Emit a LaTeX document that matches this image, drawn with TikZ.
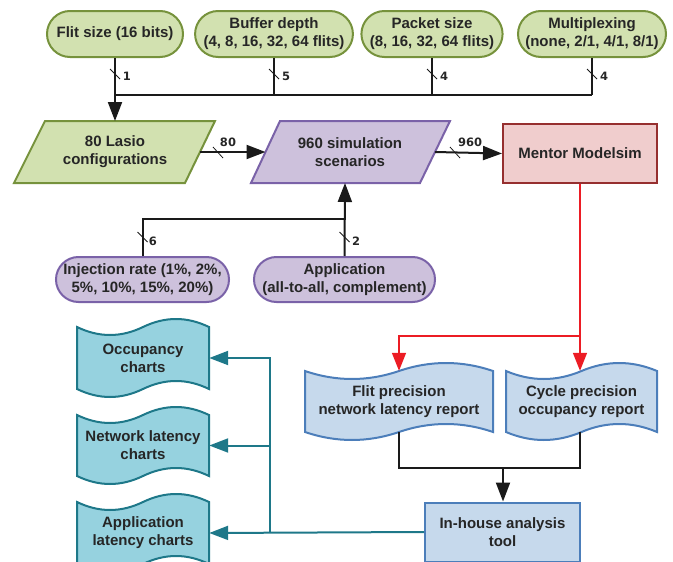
\documentclass[tikz,border=0pt]{standalone}
\usepackage{fontspec}
\setmainfont{Liberation Sans}
\newfontfamily\numfont{DejaVu Sans}
\usetikzlibrary{arrows.meta,shapes.misc}
\definecolor{grF}{HTML}{D2E1B0}
\definecolor{grD}{HTML}{76923C}
\definecolor{puF}{HTML}{CDC1DC}
\definecolor{puD}{HTML}{7A62A8}
\definecolor{piF}{HTML}{F0CDCD}
\definecolor{piD}{HTML}{962F2F}
\definecolor{blF}{HTML}{C6D9EC}
\definecolor{blD}{HTML}{4C7EBA}
\definecolor{teF}{HTML}{96D2DF}
\definecolor{teD}{HTML}{1E7889}
\definecolor{rdL}{HTML}{EC1C24}
\definecolor{txt}{HTML}{262626}
\definecolor{wireC}{HTML}{1A1A1A}
\tikzset{
  lbl/.style={font=\fontsize{15}{18}\selectfont\bfseries, text=txt, align=center},
  pill/.style={rounded rectangle, line width=2pt, minimum height=46pt, lbl, inner sep=2pt},
  greenpill/.style={pill, draw=grD, fill=grF},
  purplepill/.style={pill, draw=puD, fill=puF},
  wire/.style={line width=2pt, draw=wireC},
  arr/.style={-{Triangle[length=19pt,width=14pt]}},
  redwire/.style={line width=1.6pt, draw=rdL},
  redarr/.style={-{Triangle[length=18pt,width=14pt,fill=rdL]}},
  tealwire/.style={line width=2pt, draw=teD},
  tealarr/.style={-{Triangle[length=19pt,width=14pt,fill=teD]}},
  num/.style={font=\numfont\bfseries\fontsize{11.5}{12}\selectfont, text=txt, inner sep=0pt},
  slash/.style={line width=0.8pt, draw=wireC},
  bluebox/.style={rectangle, line width=2pt, draw=blD, fill=blF, lbl},
  pinkbox/.style={rectangle, line width=2pt, draw=piD, fill=piF, lbl},
  bluedoc/.style={line width=2pt, draw=blD, fill=blF},
  tealdoc/.style={line width=2pt, draw=teD, fill=teF},
}
% tape-shaped document: style, name, x0, x1, yt, yb, text
\newcommand{\tapedoc}[7]{%
  \pgfmathsetmacro\tpA{#3+(#4-#3)/6}%
  \pgfmathsetmacro\tpB{#3+(#4-#3)/3}%
  \pgfmathsetmacro\tpC{#3+(#4-#3)/2}%
  \pgfmathsetmacro\tpD{#3+2*(#4-#3)/3}%
  \pgfmathsetmacro\tpE{#3+5*(#4-#3)/6}%
  \pgfmathsetmacro\tpP{#5+32/3}%
  \pgfmathsetmacro\tpQ{#5-32/3}%
  \pgfmathsetmacro\bpP{#6+32/3}%
  \pgfmathsetmacro\bpQ{#6-32/3}%
  \pgfmathsetmacro\tpM{(#5+#6)/2}%
  \pgfmathsetmacro\tpW{#4-#3}%
  \pgfmathsetmacro\tpH{#6-#5}%
  \draw[#1] (#3,#5) .. controls (\tpA,\tpP) and (\tpB,\tpP) .. (\tpC,#5)
     .. controls (\tpD,\tpQ) and (\tpE,\tpQ) .. (#4,#5) -- (#4,#6)
     .. controls (\tpE,\bpQ) and (\tpD,\bpQ) .. (\tpC,#6)
     .. controls (\tpB,\bpP) and (\tpA,\bpP) .. (#3,#6) -- cycle;
  \node[lbl, minimum width=\tpW pt, minimum height=\tpH pt, inner sep=0pt] (#2) at (\tpC,\tpM) {#7};
}
\begin{document}
\begin{tikzpicture}[x=1pt,y=-1pt]
\useasboundingbox (0,0) rectangle (673,562);

% top parameter pills
\node[greenpill, minimum width=140pt] (flitsz) at (115,34) {Flit size (16 bits)};
\node[greenpill, minimum width=152pt] (buf) at (274,34) {Buffer depth\\(4, 8, 16, 32, 64 flits)};
\node[greenpill, minimum width=140pt] (pkt) at (432,34) {Packet size\\(8, 16, 32, 64 flits)};
\node[greenpill, minimum width=152pt] (mux) at (592,34) {Multiplexing\\(none, 2/1, 4/1, 8/1)};

% parallelograms
\draw[line width=2pt, draw=grD, fill=grF] (45,121) -- (215,121) -- (185,183) -- (14,183) -- cycle;
\node[lbl] (lasio) at (115,152) {80 Lasio\\configurations};
\coordinate (lasioN) at (115,121);
\coordinate (lasioE) at (200,152);
\draw[line width=2pt, draw=puD, fill=puF] (280,121) -- (450,121) -- (420,183) -- (251,183) -- cycle;
\node[lbl] (sim) at (350,152) {960 simulation\\scenarios};
\coordinate (simW) at (265.5,152);
\coordinate (simE) at (435,152);
\coordinate (simS) at (345,183);

\node[pinkbox, minimum width=154pt, minimum height=59pt] (mentor) at (580,153.5) {Mentor Modelsim};

% bottom parameter pills
\node[purplepill, minimum width=177pt, minimum height=45pt] (inj) at (142.5,279.5) {Injection rate (1\%, 2\%,\\5\%, 10\%, 15\%, 20\%)};
\node[purplepill, minimum width=185pt, minimum height=45pt] (app) at (344.5,279.5) {Application\\(all-to-all, complement)};

% reports
\tapedoc{bluedoc}{flitrep}{305}{493}{371}{432}{Flit precision\\network latency report}
\tapedoc{bluedoc}{cyclerep}{506}{657}{371}{432}{Cycle precision\\occupancy report}

\node[bluebox, minimum width=155pt, minimum height=59pt] (tool) at (502.5,532) {In-house analysis\\tool};

% charts
\tapedoc{tealdoc}{occ}{77}{209}{327}{389}{Occupancy\\charts}
\tapedoc{tealdoc}{netlat}{77}{209}{415}{476}{Network latency\\charts}
\tapedoc{tealdoc}{applat}{77}{209}{502}{564}{Application\\latency charts}

% top bus
\coordinate (busL) at (115,95);
\coordinate (busR) at (592,95);
\draw[wire] (busL) -- (busR);
\draw[wire] (buf.south) -- (buf.south |- busL);
\draw[wire] (pkt.south) -- (pkt.south |- busL);
\draw[wire] (mux.south) -- (mux.south |- busR);
\draw[wire,arr] (flitsz.south) -- (lasioN);
\foreach \xx/\tt in {115/1, 274/5, 432/4, 592/4}{
  \draw[slash] (\xx-5,69) -- (\xx+5,79);
  \node[num] at (\xx+12,76) {\tt};
}

% horizontal flows
\draw[wire,arr] (lasioE) -- (simW);
\draw[slash] (213,147) -- (223,158);
\node[num] at (228,142) {80};
\draw[wire,arr] (simE) -- (mentor.west);
\draw[slash] (450,147) -- (460,158);
\node[num] at (470,142) {960};

% injection / application
\coordinate (injJ) at (142.5,219);
\draw[wire] (inj.north) -- (injJ) -- (injJ -| simS);
\draw[wire,arr] (app.north) -- (simS);
\draw[slash] (137.5,232) -- (147.5,242);
\node[num] at (153,241) {6};
\draw[slash] (339.5,232) -- (349.5,242);
\node[num] at (356,241) {2};

% red flows
\coordinate (redJ) at (580,336);
\draw[redwire,redarr] (mentor.south) -- (cyclerep.north -| mentor.south);
\draw[redwire,redarr] (redJ) -| (flitrep.north);

% merge into tool
\coordinate (mergeY) at (503,468);
\coordinate (cycB) at (cyclerep.south -| mentor.south);
\draw[wire] (flitrep.south) |- (mergeY) -| (cycB);
\draw[wire,arr] (mergeY) -- (tool.north -| mergeY);

% teal flows
\coordinate (tealV) at (270,532);
\draw[tealwire,tealarr] (tool.west) -- (applat.east);
\draw[tealwire,tealarr] (tealV) |- (occ.east);
\draw[tealwire,tealarr] (tealV |- netlat.east) -- (netlat.east);
\end{tikzpicture}
\end{document}
